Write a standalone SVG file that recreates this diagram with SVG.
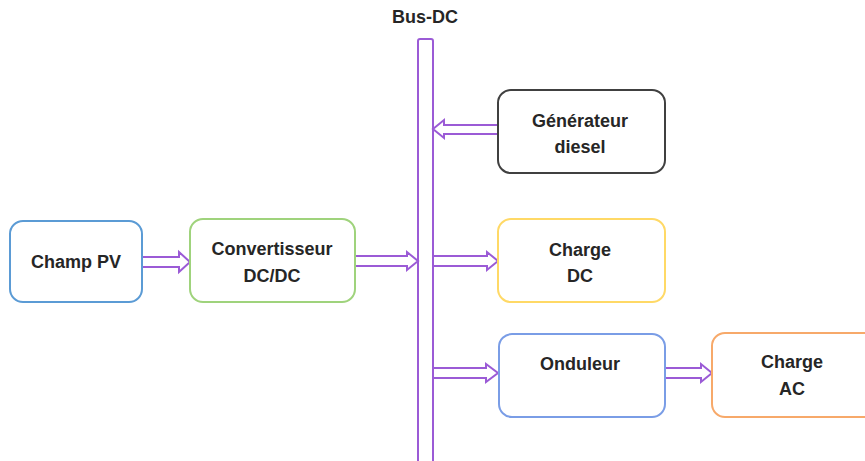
<svg xmlns="http://www.w3.org/2000/svg" width="865" height="461" viewBox="0 0 865 461">
<style>
.box{fill:#fff;stroke-width:2}
.t{font-family:"Liberation Sans",Arial,sans-serif;font-weight:bold;font-size:18px;fill:#262626;text-anchor:middle}
.arr{fill:#fff;stroke:#9b5bd6;stroke-width:2;stroke-linejoin:miter}
</style>
<rect width="865" height="461" fill="#fff"/>
<g id="bus">
<rect x="418" y="39" width="15" height="440" rx="2" fill="#fff" stroke="#9b5bd6" stroke-width="2"/>
<text class="t" x="425" y="23">Bus-DC</text>
</g>
<g id="connectors">
<path class="arr" d="M142 257 H179 V252 L190 262 L179 272 V267 H142 Z"/>
<path class="arr" d="M355 256 H407 V252 L418 261 L407 270 V266 H355 Z"/>
<path class="arr" d="M433 256 H487 V252 L498 261 L487 270 V266 H433 Z"/>
<path class="arr" d="M498 125 H444 V120 L433 129 L444 138 V134 H498 Z"/>
<path class="arr" d="M433 368 H486 V364 L498 373 L486 382 V378 H433 Z"/>
<path class="arr" d="M665 368 H701 V364 L712 373 L701 382 V378 H665 Z"/>
</g>
<g id="champ-pv">
<rect class="box" x="10" y="221" width="132" height="81" rx="13" stroke="#5b9bd5"/>
<text class="t" x="76" y="268">Champ PV</text>
</g>
<g id="convertisseur">
<rect class="box" x="190" y="219" width="165" height="83" rx="13" stroke="#9fd37c"/>
<text class="t" x="272" y="255">Convertisseur</text>
<text class="t" x="272" y="282">DC/DC</text>
</g>
<g id="generateur">
<rect class="box" x="498" y="90" width="167" height="83" rx="13" stroke="#404040"/>
<text class="t" x="580" y="127">Générateur</text>
<text class="t" x="580" y="153">diesel</text>
</g>
<g id="charge-dc">
<rect class="box" x="498" y="219" width="167" height="83" rx="13" stroke="#ffd966"/>
<text class="t" x="580" y="256">Charge</text>
<text class="t" x="580" y="282">DC</text>
</g>
<g id="onduleur">
<rect class="box" x="499" y="334" width="166" height="83" rx="13" stroke="#7a9de6"/>
<text class="t" x="580" y="370">Onduleur</text>
</g>
<g id="charge-ac">
<rect class="box" x="712" y="333" width="165" height="84" rx="13" stroke="#f7a96a"/>
<text class="t" x="792" y="368">Charge</text>
<text class="t" x="792" y="395">AC</text>
</g>
</svg>
